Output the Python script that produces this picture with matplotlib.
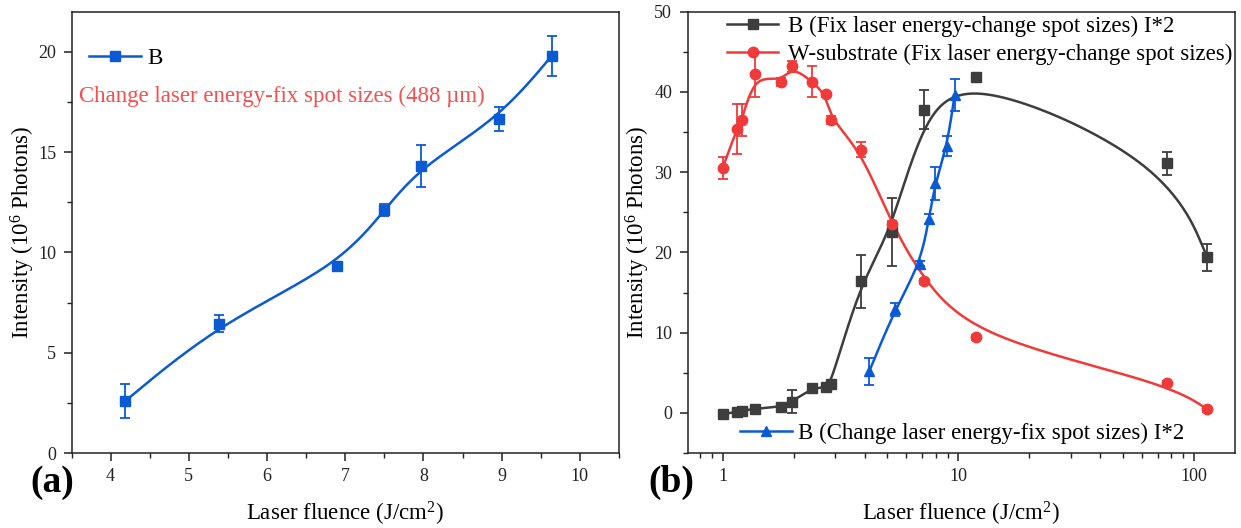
import numpy as np
import matplotlib
matplotlib.use("Agg")
import matplotlib.pyplot as plt
from matplotlib.lines import Line2D
from matplotlib.ticker import MultipleLocator, LogLocator, FixedLocator, NullFormatter

plt.rcParams['font.family'] = ['Liberation Serif', 'DejaVu Serif']
plt.rcParams['mathtext.fontset'] = 'custom'
plt.rcParams['mathtext.rm'] = 'Liberation Serif'
plt.rcParams['mathtext.it'] = 'Liberation Serif:italic'
plt.rcParams['mathtext.bf'] = 'Liberation Serif:bold'

# ---------------- data ----------------
# panel (a): B, change laser energy - fix spot size
fluence_a = [4.19, 5.38, 6.90, 7.50, 7.97, 8.96, 9.64]
intensity_a = [2.6, 6.45, 9.3, 12.1, 14.3, 16.65, 19.8]
err_a = [0.85, 0.42, 0.15, 0.3, 1.05, 0.62, 1.0]

# panel (b)
fluence_fix = [1.0, 1.15, 1.21, 1.37, 1.77, 1.97, 2.39, 2.74, 2.88, 3.85, 5.21, 7.16, 11.86, 76.9, 113.6]
b_fix = [-0.17, 0.13, 0.25, 0.54, 0.75, 1.4, 3.06, 3.19, 3.61, 16.4, 22.5, 37.8, 41.9, 31.1, 19.4]
b_fix_err = [0.3, 0.25, 0.25, 0.3, 0.3, 1.4, 0.4, 0.3, 0.4, 3.3, 4.25, 2.4, 0.3, 1.4, 1.7]
w_fix = [30.5, 35.4, 36.5, 42.2, 41.2, 43.2, 41.3, 39.7, 36.5, 32.8, 23.5, 16.4, 9.4, 3.7, 0.46]
w_fix_err = [1.4, 3.1, 2.0, 2.8, 0.5, 0.7, 1.9, 0.3, 0.5, 0.9, 0.4, 0.3, 0.3, 0.3, 0.3]
b_change = [v * 2 for v in intensity_a]
b_change_err = [v * 2 for v in err_a]

BLUE = '#0a5ad4'
RED = '#f03a3a'
GRAY = '#3d3d3d'
TEXT_RED = '#f45050'

LBL = 16.5
TCK = 13


def bspline(xs, ys, n=40):
    P = np.column_stack([xs, ys]).astype(float)
    P = np.vstack([P[0], P[0], P, P[-1], P[-1]])
    t = np.linspace(0, 1, n)
    b0 = (1 - t) ** 3 / 6
    b1 = (3 * t ** 3 - 6 * t ** 2 + 4) / 6
    b2 = (-3 * t ** 3 + 3 * t ** 2 + 3 * t + 1) / 6
    b3 = t ** 3 / 6
    segs = []
    for i in range(len(P) - 3):
        p0, p1, p2, p3 = P[i:i + 4]
        segs.append(np.outer(b0, p0) + np.outer(b1, p1) + np.outer(b2, p2) + np.outer(b3, p3))
    c = np.vstack(segs)
    return c[:, 0], c[:, 1]


fig = plt.figure(figsize=(12.41, 5.28), dpi=100)
H = 528.0
W = 1241.0
ax1 = fig.add_axes([71.5 / W, (H - 453) / H, (619 - 71.5) / W, (453 - 11.7) / H])
ax2 = fig.add_axes([687.5 / W, (H - 453) / H, (1235 - 687.5) / W, (453 - 11.7) / H])

for ax in (ax1, ax2):
    for s in ax.spines.values():
        s.set_linewidth(1.1)
        s.set_color('#222222')
    ax.tick_params(which='major', direction='out', length=6, width=1.1, labelsize=TCK,
                   pad=5, colors='#222222', top=False, right=False)
    ax.tick_params(which='minor', direction='out', length=3.5, width=1.0,
                   colors='#222222', top=False, right=False)

eb = dict(capsize=3.8, elinewidth=1.3, capthick=1.3)

# ---------- panel (a) ----------
cx, cy = bspline(fluence_a, intensity_a)
ax1.plot(cx, cy, color=BLUE, lw=1.8, zorder=2)
ax1.errorbar(fluence_a, intensity_a, yerr=err_a, fmt='s', color=BLUE, ms=7, zorder=3, **eb)
ax1.set_xlim(3.5, 10.5)
ax1.set_ylim(0, 22)
ax1.xaxis.set_major_locator(MultipleLocator(1))
ax1.xaxis.set_minor_locator(MultipleLocator(0.5))
ax1.yaxis.set_major_locator(MultipleLocator(5))
ax1.yaxis.set_minor_locator(MultipleLocator(2.5))
ax1.set_xlabel(r'Laser fluence (J/cm$\mathregular{^2}$)', fontsize=LBL, labelpad=10.5)
ax1.set_ylabel(r'Intensity (10$\mathregular{^6}$ Photons)', fontsize=LBL, labelpad=0.5)

h_a = [Line2D([], [], color=BLUE, lw=1.8, marker='s', ms=7)]
ax1.legend(h_a, ['B'], loc='center left', bbox_to_anchor=(0.032, 0.895), frameon=False,
           fontsize=LBL, handlelength=2.25, handletextpad=0.3, borderpad=0, borderaxespad=0,
           numpoints=1)
ax1.text(0.0137, 0.809, 'Change laser energy-fix spot sizes (488 µm)', transform=ax1.transAxes,
         color=TEXT_RED, fontsize=LBL, va='center', ha='left')

# ---------- panel (b) ----------
ax2.set_xscale('log')
lx = np.log10(fluence_fix)
gx, gy = bspline(lx, b_fix)
ax2.plot(10 ** gx, gy, color=GRAY, lw=1.8, zorder=2)
rx, ry = bspline(lx, w_fix)
ax2.plot(10 ** rx, ry, color=RED, lw=1.8, zorder=2)
bx, by = bspline(np.log10(fluence_a), b_change)
ax2.plot(10 ** bx, by, color=BLUE, lw=1.8, zorder=2)

ax2.errorbar(fluence_fix, b_fix, yerr=b_fix_err, fmt='s', color=GRAY, ms=7, zorder=3, **eb)
ax2.errorbar(fluence_fix, w_fix, yerr=w_fix_err, fmt='o', color=RED, ms=7.5, zorder=3, **eb)
ax2.errorbar(fluence_a, b_change, yerr=b_change_err, fmt='^', color=BLUE, ms=7.5, zorder=4, **eb)

ax2.set_xlim(0.71, 149)
ax2.set_ylim(-5, 50)
ax2.xaxis.set_major_locator(FixedLocator([1, 10, 100]))
ax2.set_xticklabels(['1', '10', '100'])
ax2.xaxis.set_minor_locator(LogLocator(base=10, subs=np.arange(2, 10) * 1.0, numticks=20))
ax2.xaxis.set_minor_formatter(NullFormatter())
ax2.yaxis.set_major_locator(MultipleLocator(10))
ax2.yaxis.set_minor_locator(MultipleLocator(5))
ax2.set_xlabel(r'Laser fluence (J/cm$\mathregular{^2}$)', fontsize=LBL, labelpad=10.5)
ax2.set_ylabel(r'Intensity (10$\mathregular{^6}$ Photons)', fontsize=LBL, labelpad=1.5)

h_b = [Line2D([], [], color=GRAY, lw=1.8, marker='s', ms=7),
       Line2D([], [], color=RED, lw=1.8, marker='o', ms=7.5)]
leg1 = ax2.legend(h_b, ['B (Fix laser energy-change spot sizes) I*2',
                        'W-substrate (Fix laser energy-change spot sizes)'],
                  loc='upper left', bbox_to_anchor=(0.072, 0.99), frameon=False, fontsize=LBL,
                  handlelength=2.25, handletextpad=0.4, borderpad=0, borderaxespad=0,
                  labelspacing=0.27, numpoints=1)
ax2.add_artist(leg1)
h_c = [Line2D([], [], color=BLUE, lw=1.8, marker='^', ms=7.5)]
ax2.legend(h_c, ['B (Change laser energy-fix spot sizes) I*2'], loc='center left',
           bbox_to_anchor=(0.096, 0.045), frameon=False, fontsize=LBL, handlelength=2.25,
           handletextpad=0.3, borderpad=0, borderaxespad=0, numpoints=1)

fig.text(52 / W, 1 - 482 / H, '(a)', fontsize=27, fontweight='bold', ha='center', va='center')
fig.text(671 / W, 1 - 482 / H, '(b)', fontsize=27, fontweight='bold', ha='center', va='center')

fig.savefig('out.png', dpi=100)
